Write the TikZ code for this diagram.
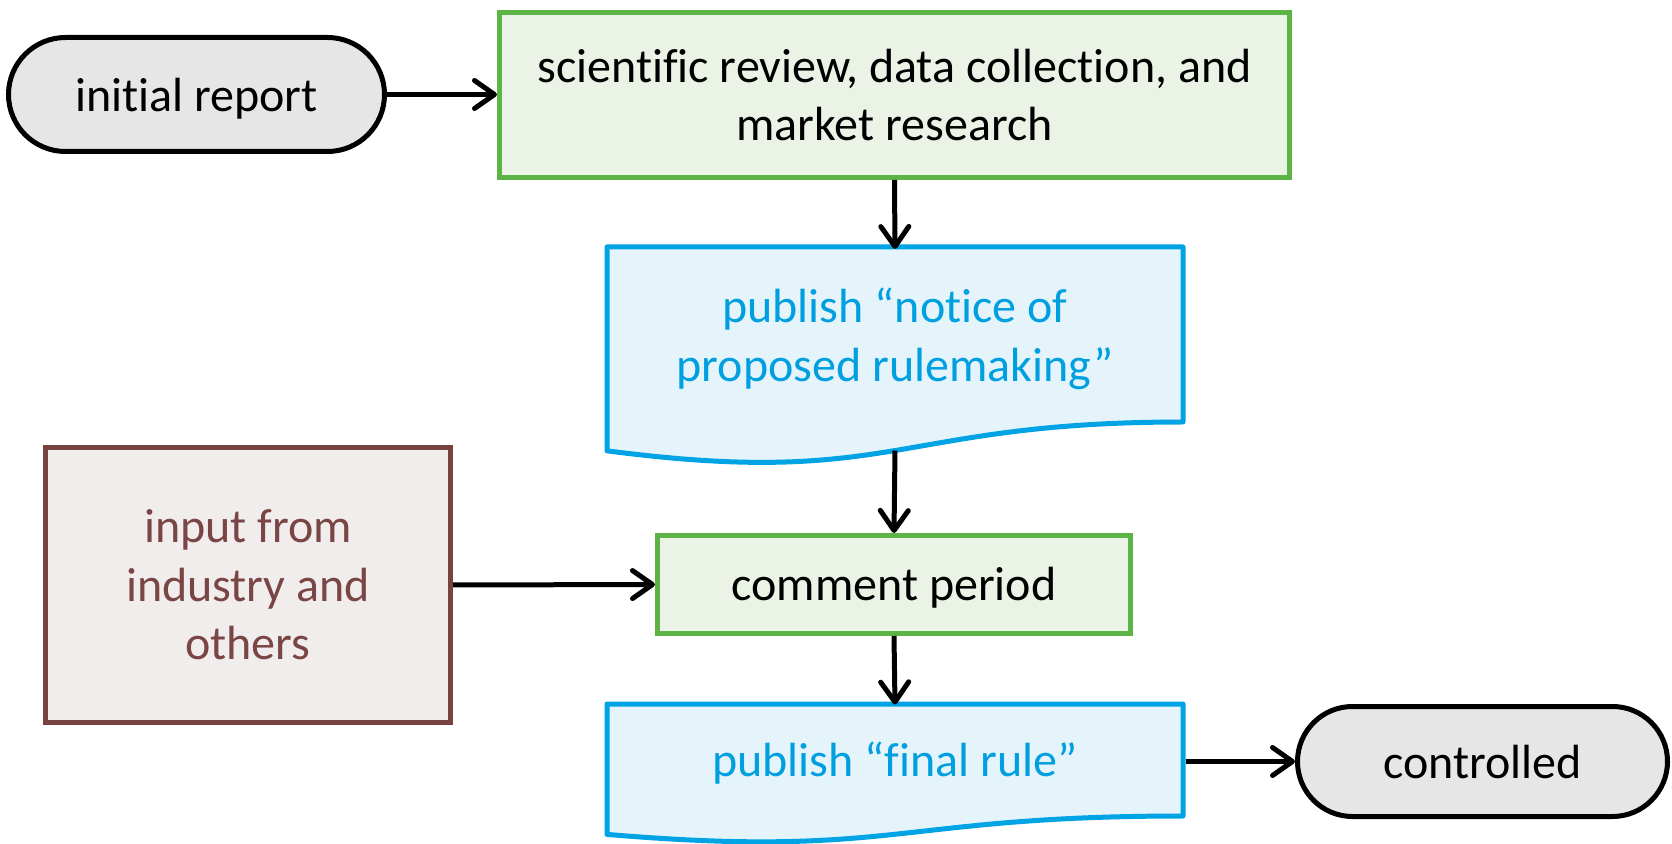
\documentclass[tikz,border=0pt]{standalone}
\usepackage{fontspec}
\setmainfont{Carlito}[Ligatures=NoCommon]
\usetikzlibrary{arrows.meta,shapes.misc}
\definecolor{gD}{HTML}{5DB446}
\definecolor{gF}{HTML}{EBF3E6}
\definecolor{bD}{HTML}{00A3E4}
\definecolor{bF}{HTML}{E5F4FB}
\definecolor{bT}{HTML}{00A0E0}
\definecolor{rD}{HTML}{774242}
\definecolor{rF}{HTML}{F2EDED}
\definecolor{rT}{HTML}{7A4545}
\definecolor{kF}{HTML}{E6E6E6}
\newcommand{\nl}{\kern0pt }
\tikzset{
  base/.style={line width=2.5pt, align=center, inner sep=0pt, font=\fontsize{24}{29.3}\selectfont},
  term/.style={base, text height=19.5pt, text depth=2.5pt, rounded rectangle, draw=black, fill=kF},
  procbox/.style={base, rectangle, draw=gD, fill=gF},
  inbox/.style={base, rectangle, draw=rD, fill=rF, text=rT},
  docbox/.style={base, rectangle, draw=none, text=bT},
  docshape/.style={line width=2.5pt, draw=bD, fill=bF, line join=round},
  conn/.style={line width=2.5pt, -{Straight Barb[length=10pt,width=14pt,round]}}
}
\begin{document}
\begin{tikzpicture}[x=0.5pt,y=-0.5pt]
\useasboundingbox (0,0) rectangle (1672,844);
% document shapes
\path[docshape] (607,247) -- (1183,247) -- (1183,422) .. controls (895,422) and (895,488.5) .. (607,450.8) -- cycle;
\path[docshape] (607,704) -- (1183,704) -- (1183,816) .. controls (895,816) and (895,858.6) .. (607,834.4) -- cycle;
% nodes
\node[term, minimum width=188pt, minimum height=57pt] (init) at (196.5,94.5) {init\nl ial report};
\node[procbox, minimum width=395pt, minimum height=82.5pt] (g1) at (894.5,95) {scient\nl if\nl ic review, data collect\nl ion, and\\market research};
\node[docbox, minimum width=288pt, minimum height=87.5pt] (b1) at (895,339) {publish “not\nl ice of\\proposed rulemaking”};
\coordinate (b1bot) at (895,450.5);
\node[procbox, text height=19pt, text depth=3pt, minimum width=236.5pt, minimum height=49pt] (cp) at (894,584.5) {comment period};
\node[inbox, minimum width=202.5pt, minimum height=137.5pt] (inp) at (248,585) {input from\\industry and\\others};
\node[docbox, text height=17.5pt, text depth=4.5pt, minimum width=288pt, minimum height=56pt] (b2) at (895,763) {publish “f\nl inal rule”};
\node[term, minimum width=185pt, minimum height=55pt] (ctl) at (1482.5,761.5) {controlled};
% connectors
\draw[conn] (init.east) -- (init.east -| g1.west);
\draw[conn] (g1.south) -- (b1.north);
\draw[conn] (b1bot) -- (cp.north);
\draw[conn] (inp.east) -- (cp.west);
\draw[conn] (cp.south) -- (b2.north);
\draw[conn] (b2.east |- ctl.west) -- (ctl.west);
\end{tikzpicture}
\end{document}
